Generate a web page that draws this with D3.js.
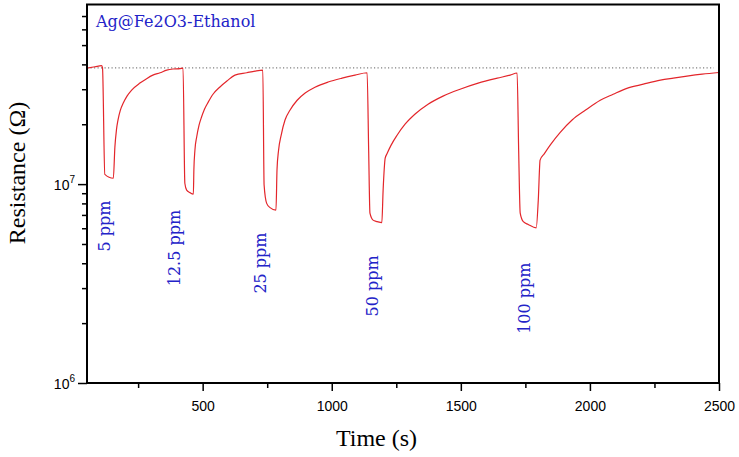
<!DOCTYPE html>
<html>
<head>
<meta charset="utf-8">
<script src="https://cdn.jsdelivr.net/npm/d3@7"></script>
<style>
  html, body { margin: 0; padding: 0; background: #fff; }
  svg { display: block; }
</style>
</head>
<body>
<svg id="chart" width="739" height="457"></svg>
<script>
// ---- data ----
const time = [52, 83, 108, 112, 121, 154, 160, 166, 172, 181, 192, 207, 225, 257, 280, 307, 335, 361, 385, 412, 424,
  431, 438, 451, 464, 466, 470, 477, 486, 496, 507, 522, 540, 567, 594, 625, 671, 703, 733,
  738, 748, 761, 784, 788, 794, 804, 819, 838, 866, 897, 935, 986, 1040, 1090, 1137,
  1143, 1148, 1160, 1176, 1194, 1199, 1207, 1214, 1230, 1253, 1284, 1323, 1373, 1431, 1497, 1567, 1641, 1691, 1718,
  1724, 1730, 1742, 1761, 1792, 1800, 1807, 1823, 1846, 1885, 1931, 1982, 2040, 2090, 2143, 2207, 2273, 2323, 2376, 2435, 2500];
const resistance = [3.83e7, 3.89e7, 3.94e7, 3.85e7, 1.12e7, 1.07e7, 1.535e7, 1.87e7, 2.10e7, 2.35e7, 2.55e7, 2.77e7, 2.97e7, 3.22e7, 3.37e7, 3.53e7, 3.63e7, 3.74e7, 3.79e7, 3.81e7, 3.83e7,
  1.01e7, 9.33e6, 9.06e6, 8.91e6, 1.18e7, 1.48e7, 1.73e7, 1.98e7, 2.18e7, 2.38e7, 2.59e7, 2.83e7, 3.08e7, 3.30e7, 3.53e7, 3.63e7, 3.70e7, 3.74e7,
  9.89e6, 8.0e6, 7.62e6, 7.40e6, 1.18e7, 1.48e7, 1.76e7, 2.10e7, 2.35e7, 2.64e7, 2.87e7, 3.07e7, 3.26e7, 3.41e7, 3.53e7, 3.63e7,
  1.48e7, 7.14e6, 6.59e6, 6.48e6, 6.40e6, 9.33e6, 1.35e7, 1.42e7, 1.57e7, 1.76e7, 2.00e7, 2.25e7, 2.52e7, 2.77e7, 3.00e7, 3.22e7, 3.41e7, 3.53e7, 3.62e7,
  1.48e7, 7.14e6, 6.47e6, 6.27e6, 6.03e6, 8.31e6, 1.32e7, 1.42e7, 1.57e7, 1.82e7, 2.10e7, 2.35e7, 2.64e7, 2.83e7, 3.03e7, 3.18e7, 3.33e7, 3.41e7, 3.49e7, 3.57e7, 3.64e7];
const baselineValue = 3.84e7;
const baselineRange = [52, 2480];

const concLabels = ["5 ppm", "12.5 ppm", "25 ppm", "50 ppm", "100 ppm"];
const concLabelTime = [140, 411, 747, 1181, 1766];
const concLabelRes = [6.15e6, 4.77e6, 4.01e6, 3.08e6, 2.67e6];

const xMajorTicks = [500, 1000, 1500, 2000, 2500];
const xMinorTicks = [250, 750, 1250, 1750, 2250];
const yMajorTicks = [1e6, 1e7];
const yMajorExp = ["6", "7"];
const yMinorTicks = [2e6, 3e6, 4e6, 5e6, 6e6, 7e6, 8e6, 9e6, 2e7, 3e7, 4e7, 5e7, 6e7, 7e7];

const titleText = "Ag@Fe2O3-Ethanol";
const xTitle = "Time (s)";
const yTitle = "Resistance (Ω)";

// ---- layout ----
const L = 87, R = 719, T = 4.5, B = 383;
const svg = d3.select("#chart");
const x = d3.scaleLinear().domain([52, 2500]).range([L, R]);
const y = d3.scaleLog().domain([1e6, 8e7]).range([B, T]);

const blue = "#2323c8";

// baseline dotted
svg.append("line")
  .attr("x1", x(baselineRange[0])).attr("x2", x(baselineRange[1]))
  .attr("y1", y(baselineValue)).attr("y2", y(baselineValue))
  .attr("stroke", "#808080").attr("stroke-width", 1.2)
  .attr("stroke-dasharray", "1.2,2.3");

// curve
const pts = time.map((t, i) => [t, resistance[i]]);
svg.append("path")
  .datum(pts)
  .attr("fill", "none")
  .attr("stroke", "#e3262b")
  .attr("stroke-width", 1.2)
  .attr("stroke-linejoin", "round")
  .attr("d", d3.line().x(d => x(d[0])).y(d => y(d[1])).curve(d3.curveMonotoneX));

// axes
const gx = svg.append("g").attr("transform", `translate(0,${B})`);
gx.call(d3.axisBottom(x).tickValues(xMajorTicks).tickSize(8).tickPadding(10).tickFormat(d3.format("d")));
const gxm = svg.append("g").attr("transform", `translate(0,${B})`);
gxm.call(d3.axisBottom(x).tickValues(xMinorTicks).tickSize(5).tickFormat(""));

const gy = svg.append("g").attr("transform", `translate(${L},0)`);
gy.call(d3.axisLeft(y).tickValues(yMajorTicks).tickSize(9).tickFormat(""));
const gym = svg.append("g").attr("transform", `translate(${L},0)`);
gym.call(d3.axisLeft(y).tickValues(yMinorTicks).tickSize(5).tickFormat(""));

svg.selectAll(".domain").remove();
svg.selectAll(".tick line").attr("stroke", "#000").attr("stroke-width", 1.5);
gx.selectAll(".tick text")
  .attr("font-family", "'Liberation Sans', Arial, sans-serif")
  .attr("font-size", 14).attr("fill", "#000");

// y tick labels as 10^n
yMajorTicks.forEach((v, i) => {
  const t = svg.append("text")
    .attr("x", 75).attr("y", y(v) + 5.5)
    .attr("text-anchor", "end")
    .attr("font-family", "'Liberation Sans', Arial, sans-serif")
    .attr("font-size", 14).attr("fill", "#000");
  t.append("tspan").text("10");
  t.append("tspan").attr("font-size", 10).attr("dy", -7).text(yMajorExp[i]);
});

// frame
svg.append("rect")
  .attr("x", L).attr("y", T).attr("width", R - L).attr("height", B - T)
  .attr("fill", "none").attr("stroke", "#000").attr("stroke-width", 2);

// title inside
svg.append("text")
  .attr("x", 96).attr("y", 27)
  .attr("font-family", "'DejaVu Serif', serif")
  .attr("font-size", 16).attr("fill", blue)
  .text(titleText);

// concentration labels
concLabels.forEach((lab, i) => {
  const px = x(concLabelTime[i]), py = y(concLabelRes[i]);
  svg.append("text")
    .attr("transform", `translate(${px},${py}) rotate(-90)`)
    .attr("text-anchor", "middle")
    .attr("font-family", "'DejaVu Serif', serif")
    .attr("font-size", 16).attr("fill", blue)
    .text(lab);
});

// axis titles
svg.append("text")
  .attr("x", 376.5).attr("y", 446)
  .attr("text-anchor", "middle")
  .attr("font-family", "'Liberation Serif', 'Times New Roman', serif")
  .attr("font-size", 24).attr("fill", "#000")
  .text(xTitle);

svg.append("text")
  .attr("transform", `translate(25,173) rotate(-90)`)
  .attr("text-anchor", "middle")
  .attr("font-family", "'Liberation Serif', 'Times New Roman', serif")
  .attr("font-size", 24).attr("fill", "#000")
  .text(yTitle);
</script>
</body>
</html>
